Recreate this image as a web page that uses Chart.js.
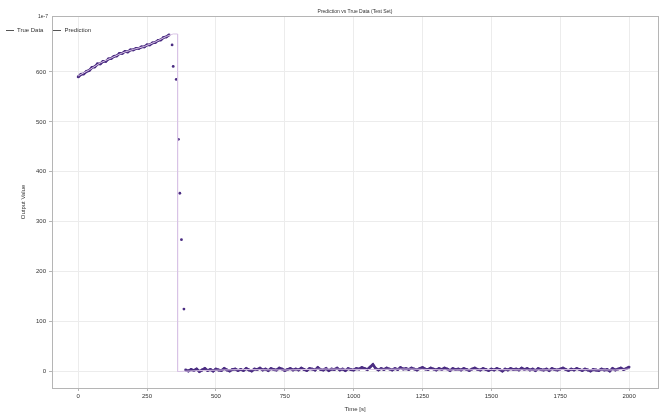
<!DOCTYPE html>
<html>
<head>
<meta charset="utf-8">
<script src="https://cdn.jsdelivr.net/npm/chart.js@4.4.1/dist/chart.umd.min.js"></script>
<style>
  html, body { margin: 0; padding: 0; background: #fff; }
  #wrap { position: relative; width: 665px; height: 417px; }
  #legend {
    position: absolute; left: 6px; top: 27px;
    font: 6px 'Liberation Sans', sans-serif; color: #333;
    display: flex; gap: 10px; align-items: center;
  }
  #legend span.sw { display: inline-block; width: 8px; height: 1px; margin-right: 3px; vertical-align: middle; }
</style>
</head>
<body>
<div id="wrap">
  <canvas id="chart" width="665" height="417"></canvas>
  <div id="legend"></div>
</div>
<script>
/* ===== data ===== */

const TITLE = 'Prediction vs True Data (Test Set)';
const X_LABEL = 'Time [s]';
const Y_LABEL = 'Output Value';
const OFFSET_TEXT = '1e-7';

const X_TICKS = [0, 250, 500, 750, 1000, 1250, 1500, 1750, 2000];
const Y_TICKS = [0, 100, 200, 300, 400, 500, 600];

// prediction, rising part (t = 0..330, every 10)
const riseValues = [590, 595, 596, 601, 603, 609, 610, 616, 616, 621,
  621, 626, 627, 631, 632, 637, 637, 641, 640, 644,
  644, 647, 647, 650, 650, 654, 654, 658, 659, 663,
  664, 669, 670, 674];

// prediction, the few points on the drop
const dropTime = [341, 345, 356, 364, 369, 375, 384];
const dropValues = [654, 611, 585, 465, 357, 264, 125];

// prediction, flat part (t = 390..2000, every 10)
const lowValues = [
  3, 1, 4, 2, 5, 0, 3, 6, 2, 4,
  1, 5, 3, 2, 6, 3, 1, 4, 5, 2,
  4, 2, 6, 3, 1, 5, 4, 7, 3, 5,
  2, 6, 4, 3, 7, 5, 2, 4, 6, 3,
  5, 3, 7, 4, 2, 6, 5, 3, 8, 4,
  3, 6, 2, 5, 4, 7, 3, 5, 2, 6,
  4, 3, 6, 5, 8, 6, 4, 9, 14, 6,
  3, 6, 4, 7, 5, 3, 6, 4, 8, 5,
  6, 4, 7, 5, 3, 6, 8, 5, 4, 7,
  5, 3, 6, 4, 7, 5, 2, 6, 4, 5,
  3, 6, 4, 2, 5, 7, 4, 3, 6, 4,
  2, 5, 3, 6, 4, 1, 5, 3, 6, 4,
  5, 3, 7, 4, 6, 3, 5, 2, 6, 4,
  3, 5, 2, 6, 4, 3, 5, 7, 4, 2,
  5, 3, 6, 4, 2, 5, 3, 1, 4, 3,
  2, 5, 3, 4, 1, 6, 3, 5, 7, 4,
  6, 9];

// true data
const trueTime = [0, 40, 80, 120, 160, 200, 240, 280, 320, 345, 361, 361,
  450, 600, 750, 900, 1050, 1200, 1350, 1500, 1650, 1800, 1950, 2000];
const trueValues = [592, 604, 618, 628, 638, 645, 651, 660, 671, 676, 676, 0,
  2, 4, 3, 5, 4, 5, 3, 4, 3, 4, 3, 5];

const COLORS = {
  pred: '#4b2d82',
  truth: '#d9c4e6',
  grid: '#ececec',
  spine: '#b5b5b5',
  text: '#333',
};

/* ===== build points ===== */

function range(start, step, count) {
  return Array.from({ length: count }, (_, i) => start + i * step);
}

const riseTime = range(0, 10, riseValues.length);
const lowTime = range(390, 10, lowValues.length);

const predPoints = []
  .concat(riseTime.map((t, i) => ({ x: t, y: riseValues[i] })))
  .concat(dropTime.map((t, i) => ({ x: t, y: dropValues[i] })))
  .concat(lowTime.map((t, i) => ({ x: t, y: lowValues[i] })));

const truePoints = trueTime.map((t, i) => ({ x: t, y: trueValues[i] }));

const FONT = { family: "'Liberation Sans', sans-serif", size: 6 };

// frame + title + offset text
const framePlugin = {
  id: 'frame',
  afterDraw(chart) {
    const { ctx, chartArea: a } = chart;
    ctx.save();
    ctx.strokeStyle = COLORS.spine;
    ctx.lineWidth = 1;
    ctx.strokeRect(a.left + 0.5, a.top + 0.5, a.right - a.left, a.bottom - a.top);
    ctx.fillStyle = COLORS.text;
    ctx.font = "5px 'Liberation Sans', sans-serif";
    ctx.textAlign = 'center';
    ctx.textBaseline = 'bottom';
    ctx.fillText(TITLE, (a.left + a.right) / 2, a.top - 2);
    ctx.textAlign = 'left';
    ctx.fillText(OFFSET_TEXT, a.left - 14, a.top + 3);
    ctx.restore();
  }
};

new Chart(document.getElementById('chart').getContext('2d'), {
  type: 'line',
  data: {
    datasets: [
      {
        label: 'True Data',
        data: truePoints,
        borderColor: COLORS.truth,
        borderWidth: 1,
        pointRadius: 0,
        tension: 0,
      },
      {
        label: 'Prediction',
        data: predPoints,
        borderColor: COLORS.pred,
        backgroundColor: COLORS.pred,
        borderWidth: 2.8,
        pointRadius: 1.4,
        pointBorderWidth: 0,
        // the drop is shown as loose points only
        segment: {
          borderColor: c => Math.abs(c.p0.parsed.y - c.p1.parsed.y) > 15 ? 'rgba(0,0,0,0)' : undefined,
        },
      }
    ]
  },
  options: {
    responsive: false,
    animation: false,
    layout: { padding: { left: 20, right: 7, top: 16, bottom: 4 } },
    plugins: {
      legend: { display: false },
      tooltip: { enabled: false },
    },
    scales: {
      x: {
        type: 'linear',
        min: -95,
        max: 2105,
        afterBuildTicks: s => { s.ticks = X_TICKS.map(v => ({ value: v })); },
        afterFit: s => { s.height = 25; },
        ticks: { color: COLORS.text, font: FONT, padding: 2, maxRotation: 0, callback: v => String(v) },
        grid: { color: COLORS.grid, tickLength: 3, tickColor: COLORS.spine },
        border: { color: COLORS.spine },
        title: { display: true, text: X_LABEL, color: COLORS.text, font: FONT, padding: { top: 0, bottom: 0 } },
      },
      y: {
        min: -33,
        max: 712,
        afterBuildTicks: s => { s.ticks = Y_TICKS.map(v => ({ value: v })); },
        afterFit: s => { s.width = 32; },
        ticks: { color: COLORS.text, font: FONT, padding: 3, callback: v => String(v) },
        grid: { color: COLORS.grid, tickLength: 3, tickColor: COLORS.spine },
        border: { color: COLORS.spine },
        title: { display: true, text: Y_LABEL, color: COLORS.text, font: FONT, padding: { top: 0, bottom: 0 } },
      }
    }
  },
  plugins: [framePlugin]
});

// legend overlay
document.getElementById('legend').innerHTML = [
  ['True Data', '#555'],
  ['Prediction', '#555'],
].map(([name, c]) => `<span><span class="sw" style="background:${c}"></span>${name}</span>`).join('');
</script>
</body>
</html>
